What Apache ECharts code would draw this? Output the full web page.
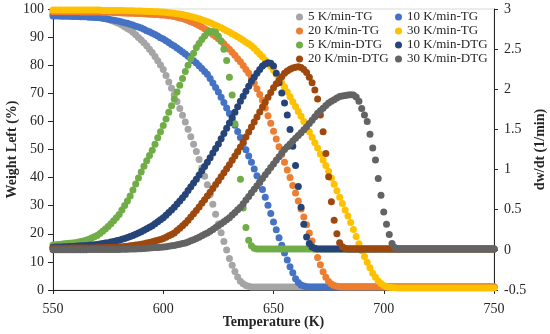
<!DOCTYPE html>
<html><head><meta charset="utf-8">
<script src="https://cdn.jsdelivr.net/npm/echarts@6/dist/echarts.min.js"></script>
<style>html,body{margin:0;padding:0;background:#fff}#c{width:550px;height:334px}</style>
</head><body><div id="c"></div>
<script>
// Temperature grid: 550 K to 750 K, one reading every 1.25 K (161 readings per series)
const tempStart = 550;
const tempStep = 1.25;

const seriesNames = ['5 K/min-TG','10 K/min-TG','20 K/min-TG','30 K/min-TG','5 K/min-DTG','10 K/min-DTG','20 K/min-DTG','30 K/min-DTG'];
const seriesColors = ['#A5A5A5','#4472C4','#ED7D31','#FFC000','#70AD47','#264478','#9E480E','#636363'];

// Weight left (%)
const tg5 = [
98.0,98.0,98.0,97.9,97.9,97.9,97.9,97.8,97.8,97.8,97.7,97.7,97.6,97.5,97.4,97.3,97.2,97.0,96.8,96.5,
96.3,96.0,95.6,95.2,94.8,94.3,93.7,93.1,92.5,91.7,90.8,89.9,89.0,88.0,86.9,85.7,84.5,83.1,81.6,80.1,
78.5,76.3,74.0,71.8,69.5,67.1,64.6,62.2,59.8,57.2,54.5,51.9,49.3,46.4,43.4,40.5,37.5,34.0,30.5,27.0,
23.5,20.4,17.3,14.2,11.2,8.8,6.6,4.6,3.1,2.2,1.6,1.3,1.1,1.1,1.1,1.1,1.1,1.1,1.1,1.1,
1.1,1.1,1.1,1.1,1.1,1.1,1.1,1.1,1.1,1.1,1.1,1.1,1.1,1.1,1.1,1.1,1.1,1.1,1.1,1.1,
1.1,1.1,1.1,1.1,1.1,1.1,1.1,1.1,1.1,1.1,1.1,1.1,1.1,1.1,1.1,1.1,1.1,1.1,1.1,1.1,
1.1,1.1,1.1,1.1,1.1,1.1,1.1,1.1,1.1,1.1,1.1,1.1,1.1,1.1,1.1,1.1,1.1,1.1,1.1,1.1,
1.1,1.1,1.1,1.1,1.1,1.1,1.1,1.1,1.1,1.1,1.1,1.1,1.1,1.1,1.1,1.1,1.1,1.1,1.1,1.1,
1.1];
const tg10 = [
97.5,97.5,97.5,97.4,97.4,97.4,97.4,97.3,97.3,97.3,97.2,97.2,97.2,97.1,97.1,97.0,97.0,96.9,96.7,96.6,
96.4,96.2,96.0,95.8,95.6,95.4,95.1,94.9,94.6,94.3,93.9,93.6,93.2,92.8,92.3,91.9,91.4,90.9,90.4,89.8,
89.3,88.7,88.1,87.4,86.8,86.1,85.4,84.7,84.0,83.2,82.4,81.6,80.8,79.8,78.8,77.8,76.8,75.3,73.7,72.1,
70.5,68.6,66.7,64.8,62.8,60.7,58.6,56.4,54.3,52.1,49.9,47.7,45.5,43.1,40.7,38.3,35.8,33.0,30.2,27.2,
24.2,21.4,18.6,15.9,13.2,10.7,8.3,6.1,4.0,2.7,1.8,1.4,1.2,1.1,1.1,1.1,1.1,1.1,1.1,1.1,
1.1,1.1,1.1,1.1,1.1,1.1,1.1,1.1,1.1,1.1,1.1,1.1,1.1,1.1,1.1,1.1,1.1,1.1,1.1,1.1,
1.1,1.1,1.1,1.1,1.1,1.1,1.1,1.1,1.1,1.1,1.1,1.1,1.1,1.1,1.1,1.1,1.1,1.1,1.1,1.1,
1.1,1.1,1.1,1.1,1.1,1.1,1.1,1.1,1.1,1.1,1.1,1.1,1.1,1.1,1.1,1.1,1.1,1.1,1.1,1.1,
1.1];
const tg20 = [
99.0,99.0,99.0,99.0,99.0,99.0,99.0,99.0,99.0,99.0,98.9,98.9,98.9,98.9,98.9,98.9,98.9,98.9,98.8,98.8,
98.8,98.8,98.7,98.7,98.7,98.6,98.6,98.5,98.5,98.5,98.4,98.4,98.4,98.3,98.2,98.1,98.1,98.0,98.0,97.9,
97.9,97.8,97.6,97.5,97.3,97.1,96.8,96.6,96.3,95.9,95.5,95.1,94.7,94.1,93.6,93.0,92.4,91.7,90.9,90.2,
89.4,88.5,87.6,86.6,85.7,84.6,83.5,82.3,81.2,79.9,78.5,77.1,75.5,73.6,71.6,69.6,67.5,64.8,62.0,59.3,
56.5,53.7,51.0,48.2,45.5,42.7,40.0,37.2,34.5,31.7,28.8,26.0,23.2,20.3,17.4,14.5,11.6,9.0,6.5,4.5,
3.0,2.1,1.6,1.3,1.2,1.1,1.1,1.1,1.1,1.1,1.1,1.1,1.1,1.1,1.1,1.1,1.1,1.1,1.1,1.1,
1.1,1.1,1.1,1.1,1.1,1.1,1.1,1.1,1.1,1.1,1.1,1.1,1.1,1.1,1.1,1.1,1.1,1.1,1.1,1.1,
1.1,1.1,1.1,1.1,1.1,1.1,1.1,1.1,1.1,1.1,1.1,1.1,1.1,1.1,1.1,1.1,1.1,1.1,1.1,1.1,
1.1];
const tg30 = [
99.6,99.6,99.6,99.6,99.6,99.6,99.6,99.6,99.6,99.6,99.6,99.6,99.6,99.6,99.6,99.6,99.6,99.6,99.5,99.5,
99.5,99.5,99.5,99.5,99.5,99.5,99.4,99.4,99.4,99.4,99.3,99.3,99.3,99.2,99.2,99.1,99.1,99.0,99.0,98.9,
98.9,98.8,98.7,98.6,98.5,98.3,98.2,98.0,97.8,97.6,97.3,97.1,96.8,96.5,96.2,95.8,95.5,95.1,94.7,94.2,
93.8,93.3,92.8,92.3,91.8,91.2,90.7,90.1,89.5,88.9,88.2,87.6,86.9,86.0,85.0,84.0,83.0,81.8,80.6,79.5,
78.3,76.8,75.2,73.7,72.2,70.5,68.8,67.0,65.3,63.5,61.8,60.0,58.2,56.3,54.4,52.4,50.5,48.4,46.3,44.3,
42.2,39.9,37.6,35.3,33.0,30.8,28.5,26.3,24.0,21.5,19.0,16.5,14.0,11.9,9.9,7.9,6.0,4.5,3.2,2.3,
1.6,1.2,1.0,0.9,0.8,0.7,0.7,0.7,0.7,0.7,0.7,0.7,0.7,0.7,0.7,0.7,0.7,0.7,0.7,0.7,
0.7,0.7,0.7,0.7,0.7,0.7,0.7,0.7,0.7,0.7,0.7,0.7,0.7,0.7,0.7,0.7,0.7,0.7,0.7,0.7,
0.7];

// dw/dt (1/min)
const dtg5 = [
0.062,0.064,0.067,0.071,0.075,0.078,0.082,0.086,0.09,0.096,0.103,0.111,0.12,0.133,0.148,0.163,0.18,0.205,0.232,0.26,
0.29,0.325,0.362,0.4,0.44,0.495,0.552,0.61,0.67,0.745,0.82,0.895,0.97,1.04,1.11,1.175,1.24,1.315,1.395,1.47,
1.55,1.63,1.715,1.795,1.88,1.965,2.05,2.135,2.22,2.3,2.38,2.45,2.52,2.57,2.62,2.665,2.7,2.72,2.72,2.71,
2.66,2.6,2.5,2.36,2.15,1.93,1.57,1.22,0.88,0.52,0.28,0.12,0.05,0.02,0.01,0.01,0.01,0.01,0.01,0.01,
0.01,0.01,0.01,0.01,0.01,0.01,0.01,0.01,0.01,0.01,0.01,0.01,0.01,0.01,0.01,0.01,0.01,0.01,0.01,0.01,
0.01,0.01,0.01,0.01,0.01,0.01,0.01,0.01,0.01,0.01,0.01,0.01,0.01,0.01,0.01,0.01,0.01,0.01,0.01,0.01,
0.01,0.01,0.01,0.01,0.01,0.01,0.01,0.01,0.01,0.01,0.01,0.01,0.01,0.01,0.01,0.01,0.01,0.01,0.01,0.01,
0.01,0.01,0.01,0.01,0.01,0.01,0.01,0.01,0.01,0.01,0.01,0.01,0.01,0.01,0.01,0.01,0.01,0.01,0.01,0.01,
0.01];
const dtg10 = [
0.034,0.035,0.036,0.037,0.039,0.04,0.042,0.043,0.045,0.047,0.05,0.052,0.055,0.058,0.061,0.064,0.068,0.073,0.078,0.084,
0.09,0.097,0.104,0.112,0.12,0.131,0.142,0.153,0.165,0.18,0.195,0.21,0.225,0.243,0.262,0.281,0.3,0.325,0.35,0.375,
0.4,0.432,0.465,0.497,0.53,0.57,0.61,0.65,0.69,0.738,0.785,0.833,0.88,0.933,0.985,1.038,1.09,1.148,1.205,1.263,
1.32,1.385,1.45,1.515,1.58,1.648,1.715,1.783,1.85,1.913,1.975,2.038,2.1,2.15,2.2,2.245,2.29,2.315,2.33,2.325,
2.29,2.2,2.08,1.955,1.83,1.68,1.5,1.29,1.05,0.79,0.53,0.32,0.16,0.08,0.035,0.02,0.01,0.01,0.01,0.01,
0.01,0.01,0.01,0.01,0.01,0.01,0.01,0.01,0.01,0.01,0.01,0.01,0.01,0.01,0.01,0.01,0.01,0.01,0.01,0.01,
0.01,0.01,0.01,0.01,0.01,0.01,0.01,0.01,0.01,0.01,0.01,0.01,0.01,0.01,0.01,0.01,0.01,0.01,0.01,0.01,
0.01,0.01,0.01,0.01,0.01,0.01,0.01,0.01,0.01,0.01,0.01,0.01,0.01,0.01,0.01,0.01,0.01,0.01,0.01,0.01,
0.01];
const dtg20 = [
0.02,0.02,0.02,0.02,0.021,0.021,0.021,0.022,0.022,0.022,0.023,0.023,0.023,0.023,0.024,0.024,0.025,0.026,0.027,0.029,
0.03,0.031,0.032,0.034,0.035,0.039,0.042,0.046,0.05,0.055,0.06,0.065,0.07,0.077,0.085,0.092,0.1,0.11,0.12,0.13,
0.14,0.157,0.175,0.192,0.21,0.24,0.27,0.3,0.33,0.37,0.41,0.45,0.49,0.535,0.58,0.625,0.67,0.718,0.765,0.813,
0.86,0.91,0.96,1.01,1.06,1.115,1.17,1.225,1.28,1.343,1.405,1.468,1.53,1.593,1.655,1.718,1.78,1.84,1.9,1.96,
2.02,2.068,2.113,2.157,2.2,2.228,2.25,2.265,2.275,2.28,2.27,2.245,2.21,2.15,2.08,1.99,1.88,1.68,1.47,1.2,
0.91,0.6,0.37,0.2,0.09,0.04,0.02,0.01,0.01,0.01,0.01,0.01,0.01,0.01,0.01,0.01,0.01,0.01,0.01,0.01,
0.01,0.01,0.01,0.01,0.01,0.01,0.01,0.01,0.01,0.01,0.01,0.01,0.01,0.01,0.01,0.01,0.01,0.01,0.01,0.01,
0.01,0.01,0.01,0.01,0.01,0.01,0.01,0.01,0.01,0.01,0.01,0.01,0.01,0.01,0.01,0.01,0.01,0.01,0.01,0.01,
0.01];
const dtg30 = [
0,0,0,0,0,0.001,0.001,0.001,0.002,0.002,0.002,0.002,0.002,0.003,0.003,0.003,0.003,0.004,0.004,0.004,
0.004,0.005,0.005,0.005,0.005,0.007,0.008,0.009,0.01,0.011,0.012,0.014,0.015,0.018,0.02,0.023,0.025,0.028,0.03,0.033,
0.035,0.04,0.045,0.05,0.055,0.063,0.07,0.078,0.085,0.099,0.113,0.126,0.14,0.158,0.175,0.193,0.21,0.233,0.255,0.278,
0.3,0.325,0.35,0.375,0.4,0.433,0.465,0.498,0.53,0.575,0.62,0.665,0.71,0.755,0.8,0.845,0.89,0.935,0.98,1.025,
1.07,1.115,1.16,1.205,1.25,1.285,1.32,1.355,1.39,1.425,1.46,1.495,1.53,1.573,1.615,1.658,1.7,1.733,1.765,1.798,
1.83,1.85,1.87,1.89,1.91,1.917,1.923,1.93,1.932,1.928,1.905,1.85,1.76,1.68,1.6,1.44,1.27,1.12,0.89,0.68,
0.47,0.32,0.19,0.08,0.03,0.012,0.01,0.01,0.01,0.01,0.01,0.01,0.01,0.01,0.01,0.01,0.01,0.01,0.01,0.01,
0.01,0.01,0.01,0.01,0.01,0.01,0.01,0.01,0.01,0.01,0.01,0.01,0.01,0.01,0.01,0.01,0.01,0.01,0.01,0.01,
0.01];

const allValues = [tg5, tg10, tg20, tg30, dtg5, dtg10, dtg20, dtg30];
const legendCol1 = ['5 K/min-TG','20 K/min-TG','5 K/min-DTG','20 K/min-DTG'];
const legendCol2 = ['10 K/min-TG','30 K/min-TG','10 K/min-DTG','30 K/min-DTG'];

const FONT = 'Liberation Serif';
const TXT = '#262626';
const AX = '#262626';

const series = allValues.map((vals, k) => ({
  name: seriesNames[k],
  type: 'scatter',
  yAxisIndex: k < 4 ? 0 : 1,
  symbol: 'circle',
  symbolSize: 7,
  itemStyle: { color: seriesColors[k], opacity: 1 },
  emphasis: { disabled: true },
  silent: true,
  data: vals.map((v, i) => [tempStart + i * tempStep, v])
}));

const legendBase = {
  orient: 'vertical', top: 10, itemWidth: 7, itemHeight: 7, itemGap: 0, padding: 0,
  icon: 'circle', selectedMode: false,
  textStyle: { fontFamily: FONT, fontSize: 13, color: TXT, lineHeight: 14 }
};

const chart = echarts.init(document.getElementById('c'), null, { renderer: 'canvas' });
chart.setOption({
  animation: false,
  backgroundColor: '#fff',
  grid: { left: 53, right: 56, top: 9, bottom: 44, containLabel: false, outerBoundsMode: 'none',
          show: true, borderColor: '#D9D9D9', borderWidth: 1, backgroundColor: 'transparent' },
  legend: [
    Object.assign({}, legendBase, { left: 296, data: legendCol1 }),
    Object.assign({}, legendBase, { left: 395, data: legendCol2 })
  ],
  xAxis: {
    type: 'value', min: 550, max: 750, interval: 50,
    name: 'Temperature (K)', nameLocation: 'middle', nameGap: 25, nameMoveOverlap: false,
    nameTextStyle: { fontFamily: FONT, fontSize: 14, fontWeight: 'bold', color: TXT },
    axisLine: { show: true, lineStyle: { color: AX, width: 1 } },
    axisTick: { show: true, length: 4, lineStyle: { color: AX } },
    axisLabel: { fontFamily: FONT, fontSize: 14, color: TXT, margin: 12 },
    splitLine: { show: false }
  },
  yAxis: [
    {
      type: 'value', min: 0, max: 100, interval: 10, position: 'left',
      name: 'Weight Left (%)', nameLocation: 'middle', nameGap: 34, nameRotate: 90, nameMoveOverlap: false,
      nameTextStyle: { fontFamily: FONT, fontSize: 14, fontWeight: 'bold', color: TXT },
      axisLine: { show: true, lineStyle: { color: AX, width: 1 } },
      axisTick: { show: true, length: 5, lineStyle: { color: AX } },
      axisLabel: { fontFamily: FONT, fontSize: 14, color: TXT, margin: 9 },
      splitLine: { show: false }
    },
    {
      type: 'value', min: -0.5, max: 3, interval: 0.5, position: 'right',
      name: 'dw/dt (1/min)', nameLocation: 'middle', nameGap: 39, nameRotate: 90, nameMoveOverlap: false,
      nameTextStyle: { fontFamily: FONT, fontSize: 14, fontWeight: 'bold', color: TXT },
      axisLine: { show: true, lineStyle: { color: AX, width: 1 } },
      axisTick: { show: true, length: 4, lineStyle: { color: AX } },
      axisLabel: { fontFamily: FONT, fontSize: 14, color: TXT, margin: 10 },
      splitLine: { show: false }
    }
  ],
  series: series
});
</script>
</body></html>
